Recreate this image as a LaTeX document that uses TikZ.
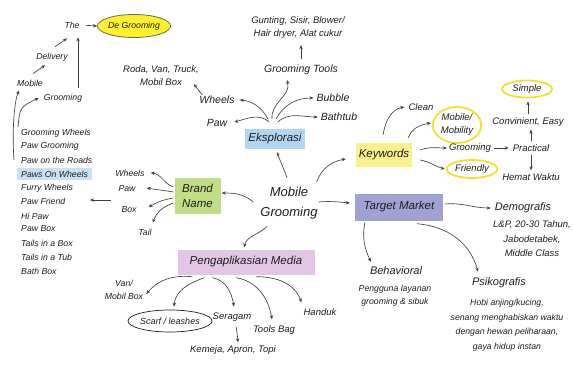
\documentclass[tikz,border=0pt]{standalone}
\usepackage{fontspec}
\setmainfont{Liberation Sans}
\usetikzlibrary{arrows.meta,calc,shapes.geometric}
\definecolor{ink}{RGB}{30,30,30}
\definecolor{bgreen}{RGB}{193,222,135}
\definecolor{eblue}{RGB}{178,214,242}
\definecolor{kyellow}{RGB}{250,240,140}
\definecolor{tmpurple}{RGB}{160,162,210}
\definecolor{pmpink}{RGB}{226,198,228}
\definecolor{hlblue}{RGB}{200,225,245}
\definecolor{degfill}{RGB}{255,240,40}
\definecolor{ringyellow}{RGB}{240,228,40}
\tikzset{
  sm/.style={font=\fontsize{8.7}{12.5}\selectfont\itshape, inner sep=1pt, text=ink, align=center},
  md/.style={font=\fontsize{9.5}{13}\selectfont\itshape, inner sep=1pt, text=ink, align=center},
  lg/.style={font=\fontsize{10.5}{13}\selectfont\itshape, inner sep=1pt, text=ink, align=center},
  hd/.style={font=\fontsize{11}{13}\selectfont\itshape, inner sep=1pt, text=ink, align=center},
  boxnode/.style={font=\fontsize{11.5}{15}\selectfont\itshape, inner sep=0pt, text=ink, align=center},
  ring/.style={ellipse, draw=ringyellow, line width=1.8pt, inner sep=0pt},
  arr/.style={draw=ink!85, line width=0.65pt, -{Stealth[length=4pt,width=3.4pt]}},
}
\begin{document}
\begin{tikzpicture}[x=1pt,y=1pt]
\useasboundingbox[fill=white] (0,0) rectangle (573,-369);

% ---------- top-left chain ----------
\node[sm] (the) at (72,-25) {The};
\node[ellipse, draw=black!60, line width=0.8pt, fill=degfill, minimum width=72pt, minimum height=23pt, inner sep=0pt, font=\fontsize{8.7}{10}\selectfont\itshape, text=ink] (degroom) at (134,-26) {De Grooming};
\node[sm] (deliv) at (52,-57) {Delivery};
\node[sm] (mobtl) at (30,-83) {Mobile};
\node[sm] (grtl) at (63,-98) {Grooming};

\draw[arr, shorten <=5pt] (the.east) -- (degroom.west);
\draw[arr] ($(deliv.north)+(3,5)$) -- ($(the.south)+(-5,-9)$);
\draw[arr] ($(mobtl.north)+(3,5)$) -- ($(deliv.south)+(-7,-3)$);
\draw[arr] ($(grtl.north)+(15,5)$) -- ($(the.south)+(6,-8)$);

% ---------- name list ----------
\node[sm, anchor=west] (l1) at (20,-133) {Grooming Wheels};
\node[sm, anchor=west] (l2) at (20,-146) {Paw Grooming};
\node[sm, anchor=west] (l3) at (20,-160) {Paw on the Roads};
\node[sm, anchor=west, fill=hlblue, inner xsep=4pt, inner ysep=2.5pt] (l4) at (17,-174) {Paws On Wheels};
\node[sm, anchor=west] (l5) at (20,-188) {Furry Wheels};
\node[sm, anchor=west] (l6) at (20,-201) {Paw Friend};
\node[sm, anchor=west] (l7) at (20,-216) {Hi Paw};
\node[sm, anchor=west] (l8) at (20,-229) {Paw Box};
\node[sm, anchor=west] (l9) at (20,-243) {Tails in a Box};
\node[sm, anchor=west] (l10) at (20,-257) {Tails in a Tub};
\node[sm, anchor=west] (l11) at (20,-271) {Bath Box};

\draw[arr] ($(l3.west)+(-6,0)$) .. controls ($(l1.west)+(-8,0)$) and ($(mobtl.south west)+(-2,-15)$) .. ($(mobtl.south west)+(3,-3)$);
\draw[arr] ($(l1.west)+(-2,6)$) .. controls ($(l1.west)+(0,26)$) .. ($(grtl.west)+(-4,0)$);

% ---------- brand name ----------
\node[boxnode, fill=bgreen, minimum width=46pt, minimum height=36pt] (brand) at (197.5,-196) {Brand\\Name};
\node[sm] (bwheels) at (130,-173) {Wheels};
\node[sm] (bpaw) at (127,-189) {Paw};
\node[sm] (bbox) at (129,-210) {Box};
\node[sm] (btail) at (145,-232) {Tail};

\draw[arr] ($(brand.west)+(-1,9)$) to[out=160,in=-5] ($(bwheels.east)+(5,0)$);
\draw[arr] ($(brand.west)+(-1,4)$) to[out=170,in=-10] ($(bpaw.east)+(10,1)$);
\draw[arr] ($(brand.west)+(-1,-2)$) to[out=190,in=30] ($(bbox.east)+(11,3)$);
\draw[arr] ($(brand.west)+(-1,-7)$) to[out=200,in=70] ($(btail.north east)+(0,5)$);

\coordinate (lat) at (111,-200);
\coordinate (lah) at (90,-200);
\draw[arr] (lat) -- (lah);

% ---------- centre ----------
\node[font=\fontsize{13}{20}\selectfont\itshape, align=center, inner sep=1pt, text=ink] (mg) at (289,-203) {Mobile\\Grooming};

% ---------- eksplorasi ----------
\node[boxnode, fill=eblue, minimum width=60pt, minimum height=20pt] (eks) at (275,-139) {Eksplorasi};
\node[lg] (ewheels) at (217,-100) {Wheels};
\node[lg] (epaw) at (217,-123) {Paw};
\node[lg] (etools) at (301,-70) {Grooming Tools};
\node[lg] (ebubble) at (333,-98) {Bubble};
\node[lg] (ebath) at (339,-117) {Bathtub};
\node[md] (eroda) at (161,-76) {Roda, Van, Truck,\\Mobil Box};
\node[md] (egunt) at (298,-28) {Gunting, Sisir, Blower/\\Hair dryer, Alat cukur};

\draw[arr] ($(eks.north)+(-7,10)$) to[out=120,in=-5] ($(ewheels.east)+(4,0)$);
\draw[arr] ($(eks.north)+(-6,7)$) to[out=140,in=15] ($(epaw.east)+(6,1)$);
\draw[arr] ($(eks.north)+(-3,10)$) to[out=95,in=-75] ($(etools.south)+(-14,-4)$);
\draw[arr] ($(eks.north)+(1,10)$) to[out=60,in=180] ($(ebubble.west)+(-2,0)$);
\draw[arr] ($(eks.north)+(3,7)$) to[out=40,in=180] ($(ebath.west)+(-2,0)$);
\draw[arr, shorten <=5pt, shorten >=5pt] (etools.north) -- (etools.north |- egunt.south);
\draw[arr] ($(ewheels.north west)+(4,0)$) -- ($(eroda.south east)+(-6,3)$);

% ---------- keywords ----------
\node[boxnode, fill=kyellow, minimum width=56pt, minimum height=24pt] (kw) at (384,-155) {Keywords};
\node[md] (kclean) at (421,-107) {Clean};
\node[ring, md, minimum width=46pt, minimum height=36pt] (kmob) at (457,-125) {Mobile/\\Mobility};
\node[md] (kgroom) at (470,-148) {Grooming};
\node[md] (kprac) at (531,-148) {Practical};
\node[ring, md, minimum width=46pt, minimum height=18pt] (kfriend) at (472,-169) {Friendly};
\node[md] (kconv) at (528,-122) {Convinient, Easy};
\node[ring, md, minimum width=50pt, minimum height=17pt] (ksimple) at (527,-89) {Simple};
\node[md] (khemat) at (531,-177) {Hemat Waktu};

\draw[arr] ($(kw.north)+(-1,8)$) to[out=80,in=190] ($(kclean.west)+(-3,0)$);
\draw[arr] ($(kw.north east)+(-4,5)$) to[out=70,in=190] ($(kmob.west)+(-1,2)$);
\draw[arr] ($(kw.east)+(8,5)$) to[out=20,in=180] ($(kgroom.west)+(-1,0)$);
\draw[arr] ($(kw.east)+(8,-5)$) to[out=-10,in=165] ($(kfriend.west)+(-1,0)$);
\draw[arr, shorten <=2pt, shorten >=3pt] (kgroom.east) -- (kprac.west);
\draw[arr, shorten <=2pt, shorten >=2pt] (kprac.north) -- (kprac.north |- kconv.south);
\draw[arr, shorten <=2pt, shorten >=3pt] (kconv.north) -- (kconv.north |- ksimple.south);
\draw[arr, shorten <=2pt, shorten >=2pt] (kprac.south) -- (kprac.south |- khemat.north);

% ---------- target market ----------
\node[boxnode, fill=tmpurple, minimum width=88pt, minimum height=27pt] (tm) at (399,-207) {Target Market};
\node[hd] (tdemo) at (523,-208) {Demografis};
\node[md] (tdemod) at (532,-239) {L\&P, 20-30 Tahun,\\[1.5pt]Jabodetabek,\\[1.5pt]Middle Class};
\node[hd] (tbeh) at (396,-271) {Behavioral};
\node[sm] (tbehd) at (395,-295.5) {Pengguna layanan\\grooming \& sibuk};
\node[hd] (tpsi) at (499,-283) {Psikografis};
\node[sm] (tpsid) at (507,-325) {Hobi anjing/kucing,\\[2pt]senang menghabiskan waktu\\[2pt]dengan hewan peliharaan,\\[2pt]gaya hidup instan};

\draw[arr] ($(tm.east)+(2,3)$) to[out=5,in=180] ($(tdemo.west)+(-3,0)$);
\draw[arr] ($(tm.south west)+(10,-2)$) to[out=-100,in=115] ($(tbeh.north west)+(2,4)$);
\draw[arr] ($(tm.south)+(18,-3)$) to[out=-5,in=105] ($(tpsi.north west)+(7,5)$);

% ---------- pengaplikasian media ----------
\node[boxnode, fill=pmpink, minimum width=137pt, minimum height=25pt] (pm) at (246,-262) {Pengaplikasian Media};
\node[sm] (pvan) at (124,-290) {Van/\\Mobil Box};
\node[ellipse, draw=ink, line width=0.7pt, font=\fontsize{9}{11}\selectfont\itshape, text=ink, minimum width=84pt, minimum height=22pt, inner sep=0pt] (pscarf) at (170,-321) {\makebox[40pt]{Scarf / leashes}};
\node[md] (pser) at (232,-317) {Seragam};
\node[md] (pkem) at (233,-350) {Kemeja, Apron, Topi};
\node[md] (ptools) at (274,-330) {Tools Bag};
\node[md] (phand) at (320,-312) {Handuk};

\draw[arr] ($(pm.south west)+(15,-2)$) to[out=175,in=50] ($(pvan.east)+(2,-4)$);
\draw[arr] ($(pm.south west)+(27,-3)$) to[out=200,in=85] ($(pscarf.north)+(4,3)$);
\draw[arr] ($(pm.south west)+(35,-3)$) to[out=-10,in=100] ($(pser.north)+(2,5)$);
\draw[arr] ($(pm.south west)+(59,-3)$) to[out=-10,in=100] ($(ptools.north)+(-2,5)$);
\draw[arr] ($(pm.south west)+(79,-2)$) to[out=0,in=110] ($(phand.north west)+(-1,5)$);
\draw[arr] ($(pser.south)+(4,-4)$) to[out=-80,in=95] ($(pkem.north)+(5,2)$);

% ---------- arrows from centre ----------
\draw[arr] ($(mg.west)+(-6,1)$) to[out=140,in=0] ($(brand.east)+(1,3)$);
\draw[arr] ($(mg.north)+(-2,8)$) to[out=110,in=-70] ($(eks.south)+(2,-3)$);
\draw[arr] ($(mg.north east)+(-2,4)$) to[out=70,in=190] ($(kw.west)+(-10,-4)$);
\draw[arr] ($(mg.east)+(0,1)$) to[out=5,in=175] ($(tm.west)+(-5,4)$);
\draw[arr] ($(mg.south west)+(8,-6)$) to[out=-135,in=75] ($(pm.north)+(-2,2)$);
\end{tikzpicture}
\end{document}
